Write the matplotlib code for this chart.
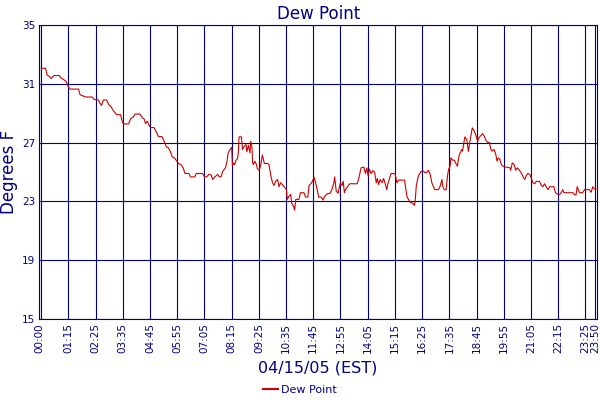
import matplotlib
matplotlib.use("Agg")
import matplotlib.pyplot as plt
from matplotlib.lines import Line2D

# time in minutes after midnight, dew point in degrees F
minutes = [5, 16, 20, 26, 31, 35, 39, 52, 55, 62, 69, 75, 79, 101, 105, 120, 136, 141, 152, 156,
           160, 165, 173, 179, 184, 190, 199, 209, 214, 218, 230, 235, 242, 246, 259, 265, 270, 273,
           278, 282, 286, 295, 301, 306, 316, 323, 327, 332, 337, 342, 348, 354, 359, 365, 370, 375,
           385, 389, 400, 404,
           412, 420, 425, 431, 436, 442, 446, 452, 459, 463, 468, 472, 479, 483, 486, 491, 495, 497,
           500, 503, 506, 510, 512, 514, 520, 523, 527, 532, 534, 538, 542, 544, 547, 549, 551, 555,
           559, 561, 566, 570, 574, 579, 587, 591, 596, 600, 604, 608, 613, 617, 621, 625, 632, 636,
           638, 643, 647, 649, 654, 657, 660, 668, 672, 681, 685, 691, 694, 701, 707, 711, 715, 719,
           726, 730, 735, 741, 748, 753, 758, 760, 764, 769, 771, 775, 779, 782, 785, 788, 792, 799,
           818, 822, 828, 835, 839, 843, 846, 849, 854, 858, 863, 867, 870, 873, 877, 882, 886, 890,
           894, 897, 901, 905, 911, 916, 920,
           925, 940, 942, 946, 950, 954, 961, 965, 967, 970, 974, 977, 983, 989, 993, 997, 1001, 1006,
           1010, 1014, 1018, 1027, 1031, 1036, 1038, 1042, 1047, 1050, 1053, 1057, 1059, 1064, 1068,
           1071, 1076, 1078, 1081, 1084, 1087, 1089, 1093, 1095, 1100, 1104, 1106, 1111, 1114, 1118,
           1123, 1128, 1131, 1136, 1141, 1145, 1149, 1153, 1158, 1162, 1165, 1170, 1174, 1178, 1181,
           1185, 1189, 1193, 1196, 1202, 1211, 1213, 1217, 1222, 1226, 1230, 1234, 1239, 1245, 1249,
           1253, 1257, 1262, 1266, 1270, 1275, 1279, 1287, 1292, 1296, 1300, 1304, 1309, 1313, 1324,
           1328, 1333, 1339, 1343, 1347, 1350, 1356, 1373, 1377, 1381, 1384, 1387, 1390, 1398, 1403,
           1415, 1420, 1424, 1428, 1432]
dew_point = [32.06, 32.06, 31.6, 31.5, 31.36, 31.5, 31.56, 31.56, 31.4, 31.3, 31.16, 30.78, 30.64, 30.64, 30.25, 30.1, 30.1, 29.94, 29.9, 29.69,
             29.53, 29.9, 29.9, 29.57, 29.46, 29.19, 28.9, 28.9, 28.38, 28.27, 28.27, 28.63, 28.74, 28.94, 28.94, 28.69, 28.6, 28.3,
             28.46, 28.2, 28.02, 28.02, 27.73, 27.43, 27.4, 26.98, 26.7, 26.65, 26.41, 26.03, 25.95, 25.73, 25.56, 25.5, 25.28, 24.9,
             24.9, 24.67, 24.67, 24.9,
             24.9, 24.9, 24.67, 24.67, 24.84, 24.8, 24.49, 24.67, 24.84, 24.67, 24.7, 25.05, 25.28, 25.73, 26.3, 26.53, 26.68, 25.4,
             25.6, 25.5, 25.8, 25.9, 26.3, 27.39, 27.39, 26.53, 26.75, 26.87, 26.37, 26.82, 26.3, 27.09, 26.75, 25.62, 25.5, 25.73,
             25.5, 25.24, 25.1, 25.5, 26.16, 25.58, 25.58, 25.5, 24.72, 24.27, 24.08, 24.37, 24.49, 24.0, 24.27, 24.15, 23.93, 23.8,
             23.14, 23.37, 23.48, 22.91, 22.68, 22.41, 23.14, 23.14, 23.59, 23.59, 23.3, 23.3, 24.08, 24.27, 24.65, 24.27, 23.8, 23.29,
             23.29, 23.09, 23.37, 23.52, 23.55, 23.81, 24.27, 24.67, 23.7, 23.55, 23.85, 24.27, 24.08, 24.37, 23.59, 23.8, 23.97, 24.2,
             24.2, 24.56, 25.28, 25.34, 24.9, 25.28, 24.72, 25.2, 24.9, 25.1, 24.97, 24.27, 24.56, 24.15, 24.49, 24.27, 24.56, 24.2,
             23.8, 24.2, 24.56, 24.9, 24.9, 24.84, 24.27,
             24.45, 24.45, 24.04, 23.32, 23.14, 22.95, 22.87, 22.73, 23.0, 24.04, 24.6, 24.83, 25.05, 25.05, 24.94, 24.98, 25.12, 24.83,
             24.27, 24.0, 23.8, 23.8, 24.0, 24.49, 24.04, 23.8, 23.8, 24.67, 25.17, 25.4, 25.96, 25.8, 25.8,
             25.62, 25.4, 25.8, 26.2, 26.34, 26.53, 26.42, 27.09, 27.39, 27.2, 26.4, 26.75, 27.54, 28.0, 27.84,
             27.54, 27.09, 27.32, 27.48, 27.61, 27.43, 27.16, 27.02, 27.02, 26.53, 26.42, 26.53, 26.26, 25.73, 25.96,
             25.85, 25.5, 25.4, 25.35, 25.33, 25.28, 25.12, 25.62, 25.5, 25.12, 25.28, 25.17, 24.98, 24.67, 24.49,
             24.75, 24.9, 24.83, 24.6, 24.27, 24.2, 24.37, 24.35, 24.08, 24.0, 24.2, 24.0, 23.8, 24.0, 24.0,
             23.6, 23.5, 23.47, 23.59, 23.8, 23.59, 23.59, 23.59, 23.45, 23.45, 24.0, 23.8, 23.59, 23.59, 23.8,
             23.8, 23.62, 24.0, 23.85, 23.85]

tick_labels = ["00:00", "01:15", "02:25", "03:35", "04:45", "05:55", "07:05", "08:15", "09:25",
               "10:35", "11:45", "12:55", "14:05", "15:15", "16:25", "17:35", "18:45", "19:55",
               "21:05", "22:15", "23:25", "23:50"]
y_ticks = [15, 19, 23, 27, 31, 35]

NAVY = "#000080"
RED = "#CC0000"

def to_min(s):
    h, m = s.split(":")
    return int(h) * 60 + int(m)

tick_pos = [to_min(s) for s in tick_labels]

fig = plt.figure(figsize=(6, 4), dpi=100)
ax = fig.add_axes([0.0655, 0.2025, 0.9295, 0.735])

ax.set_xlim(0, 1435)
ax.set_ylim(15, 35)
ax.set_xticks(tick_pos)
ax.set_xticklabels(tick_labels, rotation=90, fontsize=7.5, color=NAVY)
ax.set_yticks(y_ticks)
ax.set_yticklabels([str(v) for v in y_ticks], fontsize=7.5, color=NAVY)
ax.tick_params(length=0, pad=3)

for t in tick_pos:
    ax.axvline(t, color=NAVY, lw=0.8, zorder=1)
for v in y_ticks:
    ax.axhline(v, color=NAVY, lw=0.8, zorder=1)
ax.axvline(4, color=NAVY, lw=0.8, zorder=1)
for s in ax.spines.values():
    s.set_color(NAVY)
    s.set_linewidth(0.8)

ax.plot(minutes, dew_point, color=RED, lw=0.8, zorder=3)

ax.set_title("Dew Point", color=NAVY, fontsize=12, pad=4)
ax.set_ylabel("Degrees F", color=NAVY, fontsize=12, labelpad=3)
ax.set_xlabel("04/15/05 (EST)", color=NAVY, fontsize=11.5, labelpad=5)

handle = Line2D([0], [0], color=RED, lw=1.5)
leg = fig.legend([handle], ["Dew Point"], loc="center", bbox_to_anchor=(0.5, 0.025),
                 frameon=False, fontsize=8, handlelength=1.3, handletextpad=0.3)
for t in leg.get_texts():
    t.set_color(NAVY)

fig.savefig("out.png", dpi=100)
